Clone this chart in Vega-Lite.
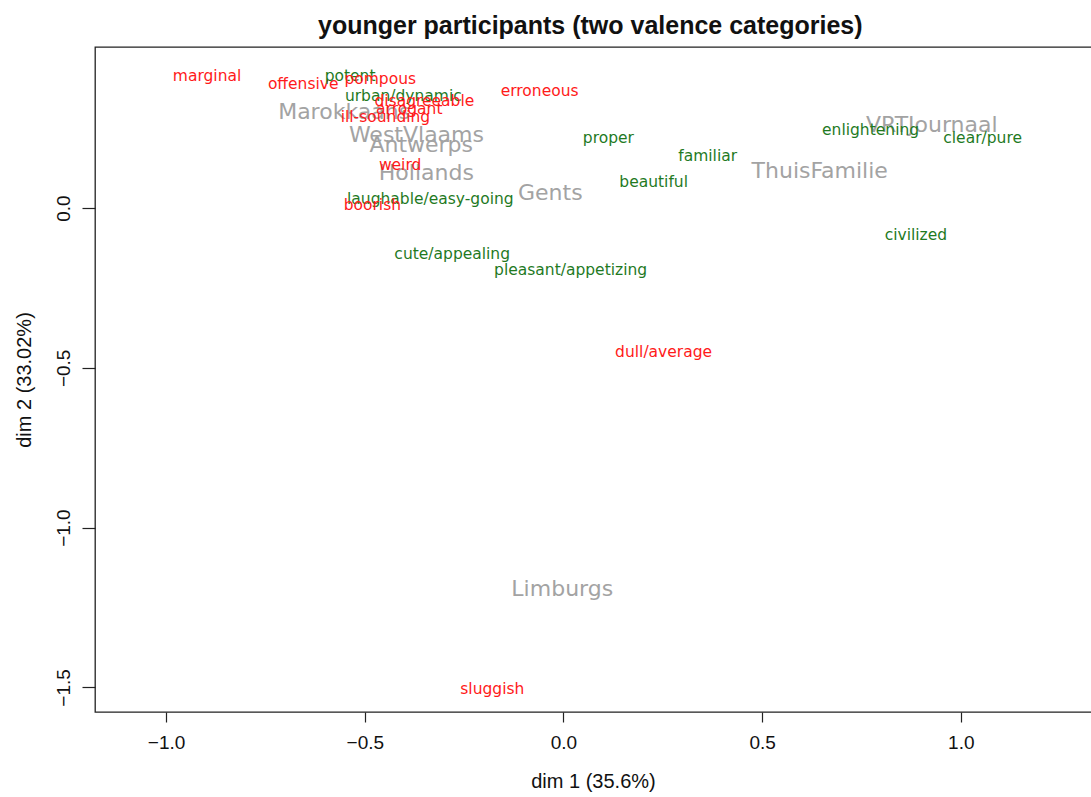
{
  "$schema": "https://vega.github.io/schema/vega-lite/v6.json",
  "width": 1010,
  "height": 665,
  "autosize": {"type": "none"},
  "padding": {"left": 95, "top": 47, "right": 0, "bottom": 85},
  "background": "white",
  "title": {
    "text": "younger participants (two valence categories)",
    "font": "Liberation Sans",
    "fontSize": 25,
    "fontWeight": "bold",
    "color": "#111111",
    "anchor": "start",
    "frame": "group",
    "dx": 223,
    "offset": 8
  },
  "config": {
    "view": {"stroke": "#222222", "strokeWidth": 1.3},
    "axis": {
      "grid": false,
      "domain": false,
      "tickColor": "#222222",
      "tickWidth": 1.2,
      "labelFont": "Liberation Sans",
      "labelFontSize": 19,
      "labelColor": "#111111",
      "titleFont": "Liberation Sans",
      "titleFontSize": 20,
      "titleFontWeight": "normal",
      "titleColor": "#111111"
    }
  },
  "datasets": {
    "words": [
      {"label": "marginal", "x": -0.897, "y": 0.413, "valence": "negative"},
      {"label": "offensive", "x": -0.655, "y": 0.388, "valence": "negative"},
      {"label": "potent", "x": -0.537, "y": 0.413, "valence": "positive"},
      {"label": "pompous", "x": -0.461, "y": 0.404, "valence": "negative"},
      {"label": "urban/dynamic", "x": -0.403, "y": 0.351, "valence": "positive"},
      {"label": "disagreeable", "x": -0.350, "y": 0.335, "valence": "negative"},
      {"label": "arrogant", "x": -0.388, "y": 0.310, "valence": "negative"},
      {"label": "ill-sounding", "x": -0.448, "y": 0.285, "valence": "negative"},
      {"label": "weird", "x": -0.411, "y": 0.135, "valence": "negative"},
      {"label": "laughable/easy-going", "x": -0.335, "y": 0.028, "valence": "positive"},
      {"label": "boorish", "x": -0.481, "y": 0.009, "valence": "negative"},
      {"label": "erroneous", "x": -0.060, "y": 0.366, "valence": "negative"},
      {"label": "proper", "x": 0.113, "y": 0.219, "valence": "positive"},
      {"label": "familiar", "x": 0.363, "y": 0.163, "valence": "positive"},
      {"label": "beautiful", "x": 0.227, "y": 0.081, "valence": "positive"},
      {"label": "enlightening", "x": 0.773, "y": 0.244, "valence": "positive"},
      {"label": "clear/pure", "x": 1.055, "y": 0.219, "valence": "positive"},
      {"label": "civilized", "x": 0.887, "y": -0.085, "valence": "positive"},
      {"label": "cute/appealing", "x": -0.280, "y": -0.144, "valence": "positive"},
      {"label": "pleasant/appetizing", "x": 0.018, "y": -0.194, "valence": "positive"},
      {"label": "dull/average", "x": 0.252, "y": -0.451, "valence": "negative"},
      {"label": "sluggish", "x": -0.179, "y": -1.505, "valence": "negative"}
    ],
    "varieties": [
      {"label": "Marokkaans", "x": -0.552, "y": 0.301},
      {"label": "WestVlaams", "x": -0.370, "y": 0.228},
      {"label": "Antwerps", "x": -0.358, "y": 0.197},
      {"label": "Hollands", "x": -0.345, "y": 0.110},
      {"label": "Gents", "x": -0.033, "y": 0.047},
      {"label": "ThuisFamilie", "x": 0.645, "y": 0.116},
      {"label": "VRTJournaal", "x": 0.927, "y": 0.260},
      {"label": "Limburgs", "x": -0.003, "y": -1.192}
    ]
  },
  "encoding": {
    "x": {
      "type": "quantitative",
      "scale": {"domain": [-1.179, 1.363], "nice": false, "zero": false},
      "axis": {
        "title": "dim 1 (35.6%)",
        "values": [-1, -0.5, 0, 0.5, 1],
        "format": ".1f",
        "tickSize": 10,
        "labelPadding": 11,
        "titlePadding": 19,
        "titleX": 498
      }
    },
    "y": {
      "type": "quantitative",
      "scale": {"domain": [-1.577, 0.504], "nice": false, "zero": false},
      "axis": {
        "title": "dim 2 (33.02%)",
        "values": [-1.5, -1, -0.5, 0],
        "format": ".1f",
        "tickSize": 13,
        "labelAngle": 270,
        "labelAlign": "center",
        "labelBaseline": "bottom",
        "labelPadding": 9,
        "titlePadding": 20
      }
    }
  },
  "layer": [
    {
      "mark": {"type": "rule", "color": "#c8c8c8", "strokeWidth": 1.3},
      "encoding": {"x": {"datum": 0}}
    },
    {
      "mark": {"type": "rule", "color": "#c8c8c8", "strokeWidth": 1.3},
      "encoding": {"y": {"datum": 0}}
    },
    {
      "data": {"name": "varieties"},
      "mark": {"type": "text", "font": "DejaVu Sans", "fontSize": 22, "color": "#a3a3a3", "align": "center", "baseline": "middle"},
      "encoding": {
        "x": {"field": "x"},
        "y": {"field": "y"},
        "text": {"field": "label"}
      }
    },
    {
      "data": {"name": "words"},
      "mark": {"type": "text", "font": "DejaVu Sans", "fontSize": 15.5, "align": "center", "baseline": "middle"},
      "encoding": {
        "x": {"field": "x"},
        "y": {"field": "y"},
        "text": {"field": "label"},
        "color": {
          "field": "valence",
          "type": "nominal",
          "scale": {"domain": ["negative", "positive"], "range": ["#ff1a1a", "#1f7a1f"]},
          "legend": null
        }
      }
    }
  ]
}
